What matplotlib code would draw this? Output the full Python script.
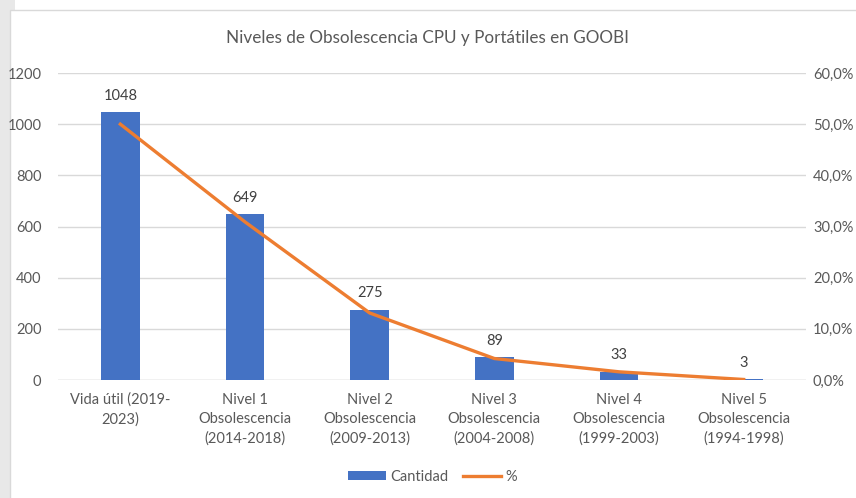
import matplotlib
matplotlib.use("Agg")
import matplotlib.pyplot as plt
from matplotlib.patches import Rectangle
from matplotlib.ticker import FuncFormatter

categories = ["Vida útil (2019-\n2023)",
              "Nivel 1\nObsolescencia\n(2014-2018)",
              "Nivel 2\nObsolescencia\n(2009-2013)",
              "Nivel 3\nObsolescencia\n(2004-2008)",
              "Nivel 4\nObsolescencia\n(1999-2003)",
              "Nivel 5\nObsolescencia\n(1994-1998)"]
cantidad = [1048, 649, 275, 89, 33, 3]
porcentaje = [50.0, 30.9, 13.1, 4.2, 1.6, 0.1]

plt.rcParams['font.family'] = ['Lato', 'DejaVu Sans']
txt = '#595959'
fs = 10.5
W, H = 856, 498
fig = plt.figure(figsize=(W/100, H/100), dpi=100)

# background framing like the screenshot
fig.patches.append(Rectangle((0, 0), 10/W, 1, transform=fig.transFigure,
                             facecolor='#e8e8e8', edgecolor='none', zorder=-5))
fig.patches.append(Rectangle((0, (H-10)/H), 15/W, 10/H, transform=fig.transFigure,
                             facecolor='#e8e8e8', edgecolor='none', zorder=-5))
fig.patches.append(Rectangle((10/W, -0.01), 1, (H-10)/H + 0.01, transform=fig.transFigure,
                             facecolor='white', edgecolor='#d9d9d9', linewidth=1, zorder=-4))

ax = fig.add_axes([58/W, 1-380/H, (806-58)/W, (380-73)/H])
x = list(range(len(categories)))
ax.bar(x, cantidad, width=0.31, color='#4472C4', label='Cantidad', zorder=2)
for xi, v in zip(x, cantidad):
    ax.text(xi, v + 36, str(v), ha='center', va='bottom', fontsize=fs, color='#404040')

ax.set_xlim(-0.5, 5.5)
ax.set_ylim(0, 1200)
ax.set_yticks(range(0, 1201, 200))
ax.set_xticks(x)
ax.set_xticklabels(categories, fontsize=fs, color=txt, linespacing=1.5)
ax.tick_params(axis='both', length=0, labelsize=fs, colors=txt)
ax.tick_params(axis='y', pad=12)
ax.tick_params(axis='x', pad=9)
ax.grid(axis='y', color='#d9d9d9', linewidth=1, zorder=0)
for s in ax.spines.values():
    s.set_visible(False)
ax.axhline(0, color='#d9d9d9', linewidth=1, zorder=1)

ax2 = ax.twinx()
ax2.plot(x, porcentaje, color='#ED7D31', linewidth=2.4, label='%', zorder=3)
ax2.set_ylim(0, 60)
ax2.set_yticks(range(0, 61, 10))
ax2.yaxis.set_major_formatter(FuncFormatter(lambda v, p: f"{v:.1f}%".replace('.', ',')))
ax2.tick_params(axis='y', length=0, labelsize=fs, colors=txt, pad=5)
for s in ax2.spines.values():
    s.set_visible(False)

fig.text(0.5, 1-38/H, "Niveles de Obsolescencia CPU y Portátiles en GOOBI",
         ha='center', va='center', fontsize=12.3, color=txt)

h1, l1 = ax.get_legend_handles_labels()
h2, l2 = ax2.get_legend_handles_labels()
fig.legend(h1 + h2, l1 + l2, loc='center', bbox_to_anchor=(0.505, 1-477/H), ncol=2,
           frameon=False, fontsize=fs, labelcolor=txt, handlelength=2.6,
           handleheight=0.6, columnspacing=1.0, handletextpad=0.3)

fig.savefig("out.png", dpi=100)
